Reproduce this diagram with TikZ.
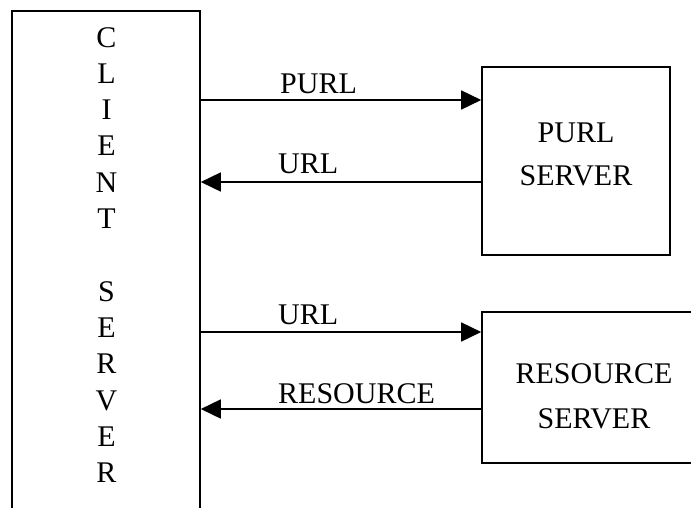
\documentclass[tikz,border=0pt]{standalone}
\usepackage{fontspec}
\setmainfont{Liberation Serif}
\usetikzlibrary{arrows.meta}
\tikzset{
  box/.style={draw, line width=1.6pt, rectangle, inner sep=0pt},
  msg/.style={line width=1.6pt, -{Triangle[length=20pt,width=19pt]}},
  lbl/.style={anchor=base west, inner sep=0pt, font=\fontsize{30}{36}\selectfont},
  word/.style={anchor=base, inner sep=0pt, font=\fontsize{30}{36}\selectfont},
}
\begin{document}
\begin{tikzpicture}[x=1pt,y=-1pt]
\useasboundingbox (0,0) rectangle (691,507);
\clip (0,0) rectangle (691,507);

% boxes (client and resource boxes run past the frame)
\node[box, minimum width=188pt, minimum height=509pt] (client) at (106,265.5) {};
\node[box, minimum width=188pt, minimum height=188pt] (purl) at (576,161) {};
\node[box, minimum width=223pt, minimum height=151pt] (res) at (593.5,387.5) {};

% vertical caption of the client box
\foreach \ch [count=\i from 0] in {C,L,I,E,N,T,{},S,E,R,V,E,R}{
  \node[word] (c\i) at (106.5,47+36.33*\i) {\ch};
}

% server captions
\node[word] (p1) at (576,142) {PURL};
\node[word] (p2) at (576,185) {SERVER};
\node[word] (r1) at (594,383) {RESOURCE};
\node[word] (r2) at (594,428) {SERVER};

% message levels
\coordinate (m1) at (0,100);
\coordinate (m2) at (0,182);
\coordinate (m3) at (0,332);
\coordinate (m4) at (0,409);

\draw[msg] (client.east |- m1) -- (purl.west |- m1);
\draw[msg] (purl.west |- m2) -- (client.east |- m2);
\draw[msg] (client.east |- m3) -- (res.west |- m3);
\draw[msg] (res.west |- m4) -- (client.east |- m4);

% message labels
\node[lbl] (l1) at (280,93) {PURL};
\node[lbl] (l2) at (278,173) {URL};
\node[lbl] (l3) at (278,324) {URL};
\node[lbl] (l4) at (278,403) {RESOURCE};
\end{tikzpicture}
\end{document}
